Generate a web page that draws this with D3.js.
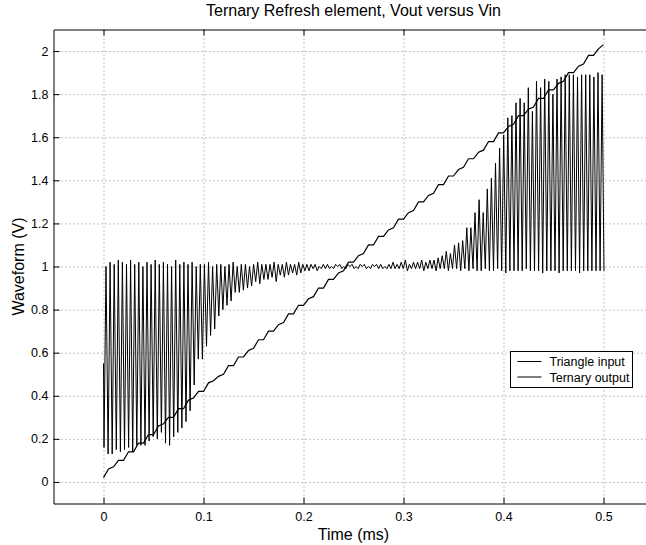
<!DOCTYPE html>
<html>
<head>
<meta charset="utf-8">
<script src="https://cdn.jsdelivr.net/npm/d3@7"></script>
<style>
  html, body { margin: 0; padding: 0; background: #fff; }
  svg { display: block; font-family: "Liberation Sans", Arial, Helvetica, sans-serif; }
</style>
</head>
<body>
<svg id="chart" width="646" height="545"></svg>
<script>
// ---- data ----
const titleText = "Ternary Refresh element, Vout versus Vin";
const xLabel = "Time (ms)";
const yLabel = "Waveform (V)";
const seriesNames = ["Triangle input", "Ternary output"];

const xTickValues = [0, 0.1, 0.2, 0.3, 0.4, 0.5];
const xTickLabels = ["0", "0.1", "0.2", "0.3", "0.4", "0.5"];
const yTickValues = [0, 0.2, 0.4, 0.6, 0.8, 1, 1.2, 1.4, 1.6, 1.8, 2];
const yTickLabels = ["0", "0.2", "0.4", "0.6", "0.8", "1", "1.2", "1.4", "1.6", "1.8", "2"];

// triangle input, sampled every 5 us (0 .. 0.5 ms)
const inputStep = 0.005;
const inputVolts = [
  0.02, 0.06, 0.07, 0.10, 0.10, 0.14, 0.14, 0.18, 0.18, 0.22,
  0.22, 0.26, 0.27, 0.30, 0.30, 0.34, 0.34, 0.38, 0.39, 0.42,
  0.42, 0.46, 0.47, 0.49, 0.50, 0.54, 0.54, 0.58, 0.58, 0.61,
  0.62, 0.66, 0.66, 0.70, 0.70, 0.73, 0.74, 0.78, 0.78, 0.82,
  0.82, 0.85, 0.86, 0.90, 0.90, 0.94, 0.94, 0.97, 0.98, 1.02,
  1.02, 1.05, 1.06, 1.10, 1.10, 1.14, 1.14, 1.17, 1.18, 1.22,
  1.22, 1.25, 1.26, 1.30, 1.30, 1.33, 1.34, 1.38, 1.38, 1.42,
  1.42, 1.45, 1.46, 1.50, 1.50, 1.53, 1.54, 1.58, 1.58, 1.62,
  1.62, 1.65, 1.66, 1.70, 1.70, 1.73, 1.74, 1.78, 1.78, 1.82,
  1.82, 1.85, 1.86, 1.90, 1.90, 1.93, 1.94, 1.98, 1.98, 2.01,
  2.03
];

// ternary output: one low and one high value per switching cycle
const cyclePeriod = 0.0041;   // ms
const lowOffset = 0.0005;     // ms into each cycle
const highOffset = 0.0025;    // ms into each cycle
const outStart = 0.55;
const outEndTime = 0.5005;
const outEnd = 0.98;
const outLows = [
  0.16, 0.13, 0.13, 0.15, 0.14, 0.15, 0.16, 0.14, 0.17, 0.17,
  0.17, 0.19, 0.21, 0.20, 0.23, 0.18, 0.17, 0.21, 0.23, 0.25,
  0.28, 0.33, 0.45, 0.57, 0.57, 0.63, 0.68, 0.71, 0.77, 0.80,
  0.82, 0.84, 0.88, 0.88, 0.89, 0.90, 0.91, 0.93, 0.92, 0.94,
  0.94, 0.95, 0.93, 0.96, 0.95, 0.96, 0.97, 0.96, 0.97, 0.98,
  0.98, 0.99, 0.98, 0.99, 0.99, 0.99, 0.99, 1.00, 0.99, 0.99,
  1.00, 0.99, 0.99, 1.00, 0.99, 0.99, 1.00, 0.99, 0.99, 0.99,
  0.99, 0.99, 0.99, 0.99, 0.98, 0.99, 0.99, 0.99, 0.98, 0.99,
  0.99, 0.98,
  0.99, 0.99, 0.98, 0.99, 0.99, 0.98, 0.99, 0.98, 0.99, 0.98,
  0.98, 0.99, 0.98, 0.98, 0.99, 0.98, 0.97, 0.98, 0.98, 0.98,
  0.98, 0.99, 0.98, 0.98, 0.98, 0.97, 0.98, 0.98, 0.98, 0.97,
  0.98, 0.98, 0.98, 0.98, 0.97, 0.98, 0.98, 0.98, 0.98, 0.98
];
const outHighs = [
  1.00, 1.02, 1.01, 1.03, 1.02, 1.01, 1.03, 1.01, 1.02, 1.00,
  1.02, 1.01, 1.03, 1.01, 1.02, 1.01, 1.00, 1.03, 1.01, 1.02,
  1.01, 1.02, 1.00, 1.01, 1.01, 1.02, 1.00, 1.01, 1.01, 1.00,
  1.01, 1.02, 1.00, 1.01, 1.01, 1.00, 1.01, 1.02, 1.01, 1.01,
  1.01, 1.02, 1.01, 1.01, 1.02, 1.01, 1.01, 1.02, 1.01, 1.01,
  1.01, 1.01, 1.00, 1.01, 1.01, 1.00, 1.01, 1.01, 1.00, 1.01,
  1.01, 1.00, 1.01, 1.01, 1.00, 1.01, 1.01, 1.01, 1.00, 1.01,
  1.02, 1.01, 1.02, 1.03, 1.01, 1.02, 1.02, 1.03, 1.02, 1.03,
  1.03, 1.04,
  1.05, 1.07, 1.06, 1.10, 1.11, 1.12, 1.18, 1.18, 1.25, 1.31,
  1.25, 1.36, 1.41, 1.48, 1.55, 1.61, 1.69, 1.70, 1.76, 1.78,
  1.76, 1.83, 1.72, 1.86, 1.83, 1.87, 1.86, 1.80, 1.87, 1.88,
  1.89, 1.89, 1.89, 1.88, 1.89, 1.89, 1.89, 1.88, 1.90, 1.89
];

// ---- layout ----
const W = 646, H = 545;
const plotLeft = 53.5, plotRight = 653.5, plotTop = 29.5, plotBottom = 503.5;
const fontStack = "'Liberation Sans', Arial, Helvetica, sans-serif";

const svg = d3.select("#chart");
svg.append("rect").attr("width", W).attr("height", H).attr("fill", "#fff");

const x = d3.scaleLinear().domain([-0.05, 0.55]).range([plotLeft, plotRight]);
const y = d3.scaleLinear().domain([-0.1, 2.1]).range([plotBottom, plotTop]);

// dotted grid
const grid = svg.append("g").attr("class", "grid");
grid.append("g")
  .attr("transform", `translate(0,${plotBottom})`)
  .call(d3.axisBottom(x).tickValues(xTickValues).tickSize(-(plotBottom - plotTop)).tickFormat(""))
  .call(g => g.select(".domain").remove());
grid.append("g")
  .attr("transform", `translate(${plotLeft},0)`)
  .call(d3.axisLeft(y).tickValues(yTickValues).tickSize(-(plotRight - plotLeft)).tickFormat(""))
  .call(g => g.select(".domain").remove());
grid.selectAll("line")
  .attr("stroke", "#8a8a8a")
  .attr("stroke-width", 1)
  .attr("stroke-dasharray", "1,3");

// data lines
svg.append("clipPath").attr("id", "clip")
  .append("rect").attr("x", plotLeft).attr("y", plotTop)
  .attr("width", plotRight - plotLeft).attr("height", plotBottom - plotTop);
const plot = svg.append("g").attr("clip-path", "url(#clip)");

const inputPts = inputVolts.map((v, k) => [k * inputStep, v]);
const outPts = [[0, outStart]];
outLows.forEach((lo, i) => {
  outPts.push([i * cyclePeriod + lowOffset, lo]);
  outPts.push([i * cyclePeriod + highOffset, outHighs[i]]);
});
outPts.push([outEndTime, outEnd]);

const line = d3.line().x(d => x(d[0])).y(d => y(d[1]));

plot.append("path").datum(outPts)
  .attr("d", line).attr("fill", "none").attr("stroke", "#000").attr("stroke-width", 1);
plot.append("path").datum(inputPts)
  .attr("d", line).attr("fill", "none").attr("stroke", "#000").attr("stroke-width", 1.2);

// axes (ticks inside the box)
const tickStyle = g => {
  g.selectAll(".tick line").attr("stroke", "#000");
  g.select(".domain").attr("stroke", "#000").attr("stroke-width", 1);
  g.selectAll("text").attr("fill", "#000").attr("font-size", 12.5).attr("font-family", fontStack);
};
svg.append("g")
  .attr("transform", `translate(0,${plotBottom})`)
  .call(d3.axisBottom(x).tickValues(xTickValues).tickSizeInner(-6).tickSizeOuter(0)
    .tickPadding(9).tickFormat((d, i) => xTickLabels[i]))
  .call(tickStyle);
svg.append("g")
  .attr("transform", `translate(0,${plotTop})`)
  .call(d3.axisTop(x).tickValues(xTickValues).tickSizeInner(-6).tickSizeOuter(0).tickFormat(""))
  .call(tickStyle);
svg.append("g")
  .attr("transform", `translate(${plotLeft},0)`)
  .call(d3.axisLeft(y).tickValues(yTickValues).tickSizeInner(-6).tickSizeOuter(0)
    .tickPadding(5).tickFormat((d, i) => yTickLabels[i]))
  .call(tickStyle);

// titles
svg.append("text").attr("x", (plotLeft + plotRight) / 2).attr("y", 16)
  .attr("text-anchor", "middle").attr("font-size", 16).text(titleText);
svg.append("text").attr("x", (plotLeft + plotRight) / 2).attr("y", 540)
  .attr("text-anchor", "middle").attr("font-size", 16).text(xLabel);
svg.append("text").attr("transform", `translate(24,${(plotTop + plotBottom) / 2}) rotate(-90)`)
  .attr("text-anchor", "middle").attr("font-size", 16).text(yLabel);

// legend
const lg = svg.append("g").attr("transform", "translate(510.5,351.5)");
lg.append("rect").attr("width", 122).attr("height", 36)
  .attr("fill", "#fff").attr("stroke", "#000").attr("stroke-width", 1);
seriesNames.forEach((name, i) => {
  const cy = 10 + i * 15.5;
  lg.append("line").attr("x1", 7).attr("x2", 31).attr("y1", cy).attr("y2", cy)
    .attr("stroke", "#000").attr("stroke-width", 1);
  lg.append("text").attr("x", 39).attr("y", cy + 4.5).attr("font-size", 12.5).text(name);
});
</script>
</body>
</html>
